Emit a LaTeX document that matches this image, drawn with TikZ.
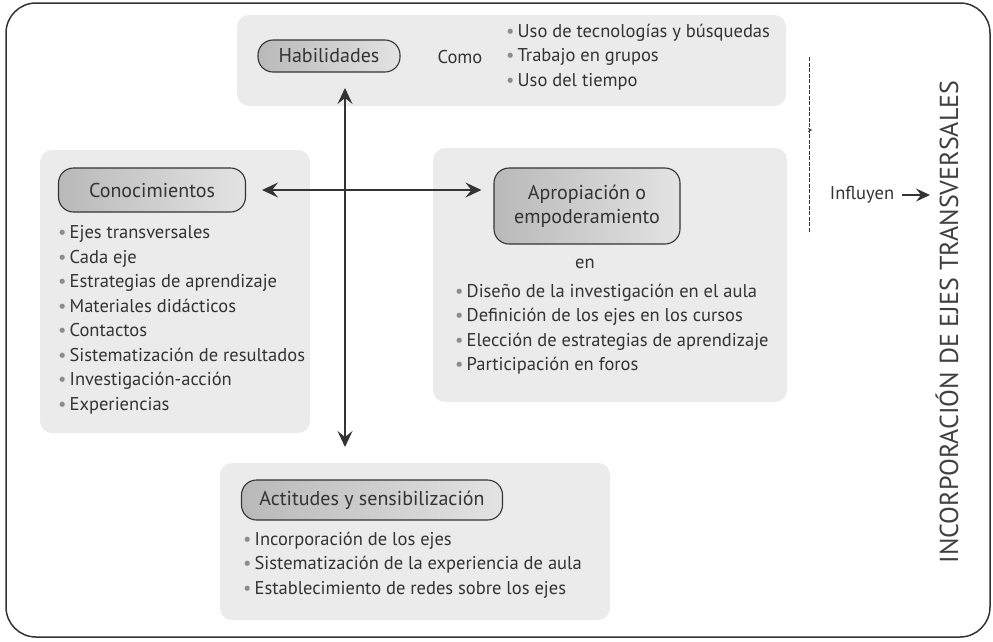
\documentclass[tikz,border=0pt]{standalone}
\usepackage{fontspec}
\setmainfont{PT Sans}
\usetikzlibrary{arrows.meta}
\usetikzlibrary{positioning}
\definecolor{panelgray}{gray}{0.92}
\definecolor{inkgray}{gray}{0.2}
\newcommand{\bul}{\textcolor{black!45}{\textbullet}\,}
\tikzset{
panel/.style={ % light gray background blocks
fill=panelgray, draw=none, rounded corners=12pt},
pill/.style={ % the rounded title boxes
draw=inkgray, line width=1.1pt, rounded corners=15pt,
left color=gray!55, right color=gray!22,
text=inkgray, inner sep=2pt, font=\fontsize{20}{24}\selectfont},
items/.style={ % bullet lists
anchor=west, align=left, text=inkgray, inner sep=0pt,
font=\fontsize{18.5}{24.5}\selectfont},
link/.style={ % the cross of arrows
draw=inkgray, line width=1.3pt,
{Stealth[length=16pt,width=15pt,inset=6pt]}-{Stealth[length=16pt,width=15pt,inset=6pt]}}}

\begin{document}
\begin{tikzpicture}[x=1pt,y=-1pt,font=\fontsize{18.5}{24.5}\selectfont]
\useasboundingbox (0,0) rectangle (993,641);
% background panels
\fill[panel] (237,15) rectangle (786,106);
\fill[panel] (40,150) rectangle (310,433);
\fill[panel] (433,148) rectangle (787,402);
\fill[panel] (220,463) rectangle (610,620);
% outer frame
\draw[line width=1.5pt, black!80, rounded corners=30pt] (6,3) rectangle (990,637);

% title boxes
\node[pill, minimum width=142pt, minimum height=32pt] (hab) at (329,56) {Habilidades};
\node[pill, minimum width=187pt, minimum height=44pt] (con) at (152,190) {Conocimientos};
\node[pill, minimum width=186pt, minimum height=76pt, align=center] (apr) at (587,206) {Apropiación o\\empoderamiento};
\node[pill, minimum width=261pt, minimum height=40pt] (act) at (372,500) {Actitudes y sensibilización};

% words and lists
\node[text=inkgray] (como) at (460,57) {Como};
\node[items] (habitems) at (506,57) {\bul Uso de tecnologías y búsquedas\\\bul Trabajo en grupos\\\bul Uso del tiempo};
\node[items] (conitems) at (58,320) {\bul Ejes transversales\\\bul Cada eje\\\bul Estrategias de aprendizaje\\\bul Materiales didácticos\\\bul Contactos\\\bul Sistematización de resultados\\\bul Investigación-acción\\\bul Experiencias};
\node[text=inkgray] (en) at (585,264) {en};
\node[items] (apritems) at (455,329) {\bul Diseño de la investigación en el aula\\\bul Definición de los ejes en los cursos\\\bul Elección de estrategias de aprendizaje\\\bul Participación en foros};
\node[items] (actitems) at (243,565) {\bul Incorporación de los ejes\\\bul Sistematización de la experiencia de aula\\\bul Establecimiento de redes sobre los ejes};

% right side
\node[text=inkgray] (influ) at (862,195) {Influyen};
\node[rotate=90, text=black!75, font=\fontsize{26}{30}\selectfont] (title) at (947,322) {INCORPORACIÓN DE EJES TRANSVERSALES};
\coordinate (dtop) at (809,57);
\coordinate (dbot) at (809,233);
\coordinate (dmid) at (809,130);
\coordinate (vtop) at (345,88);
\coordinate (vbot) at (345,447);

% arrows
\draw[link] (vtop) -- (vbot);
\draw[link, shorten <=16pt, shorten >=12pt] (con.east) -- (con.east -| apr.west);
\draw[black!80, line width=0.8pt, dash pattern=on 4pt off 1.5pt] (dtop) -- (dbot);
\draw[black!80, -{Stealth[length=4pt,width=4pt]}] (dmid) -- ++(3,0);
\draw[inkgray, line width=1.3pt, shorten <=4pt, shorten >=2pt, -{Stealth[length=14pt,width=13pt,inset=5pt]}] (influ.east) -- (influ.east -| title.north);
\end{tikzpicture}
\end{document}
